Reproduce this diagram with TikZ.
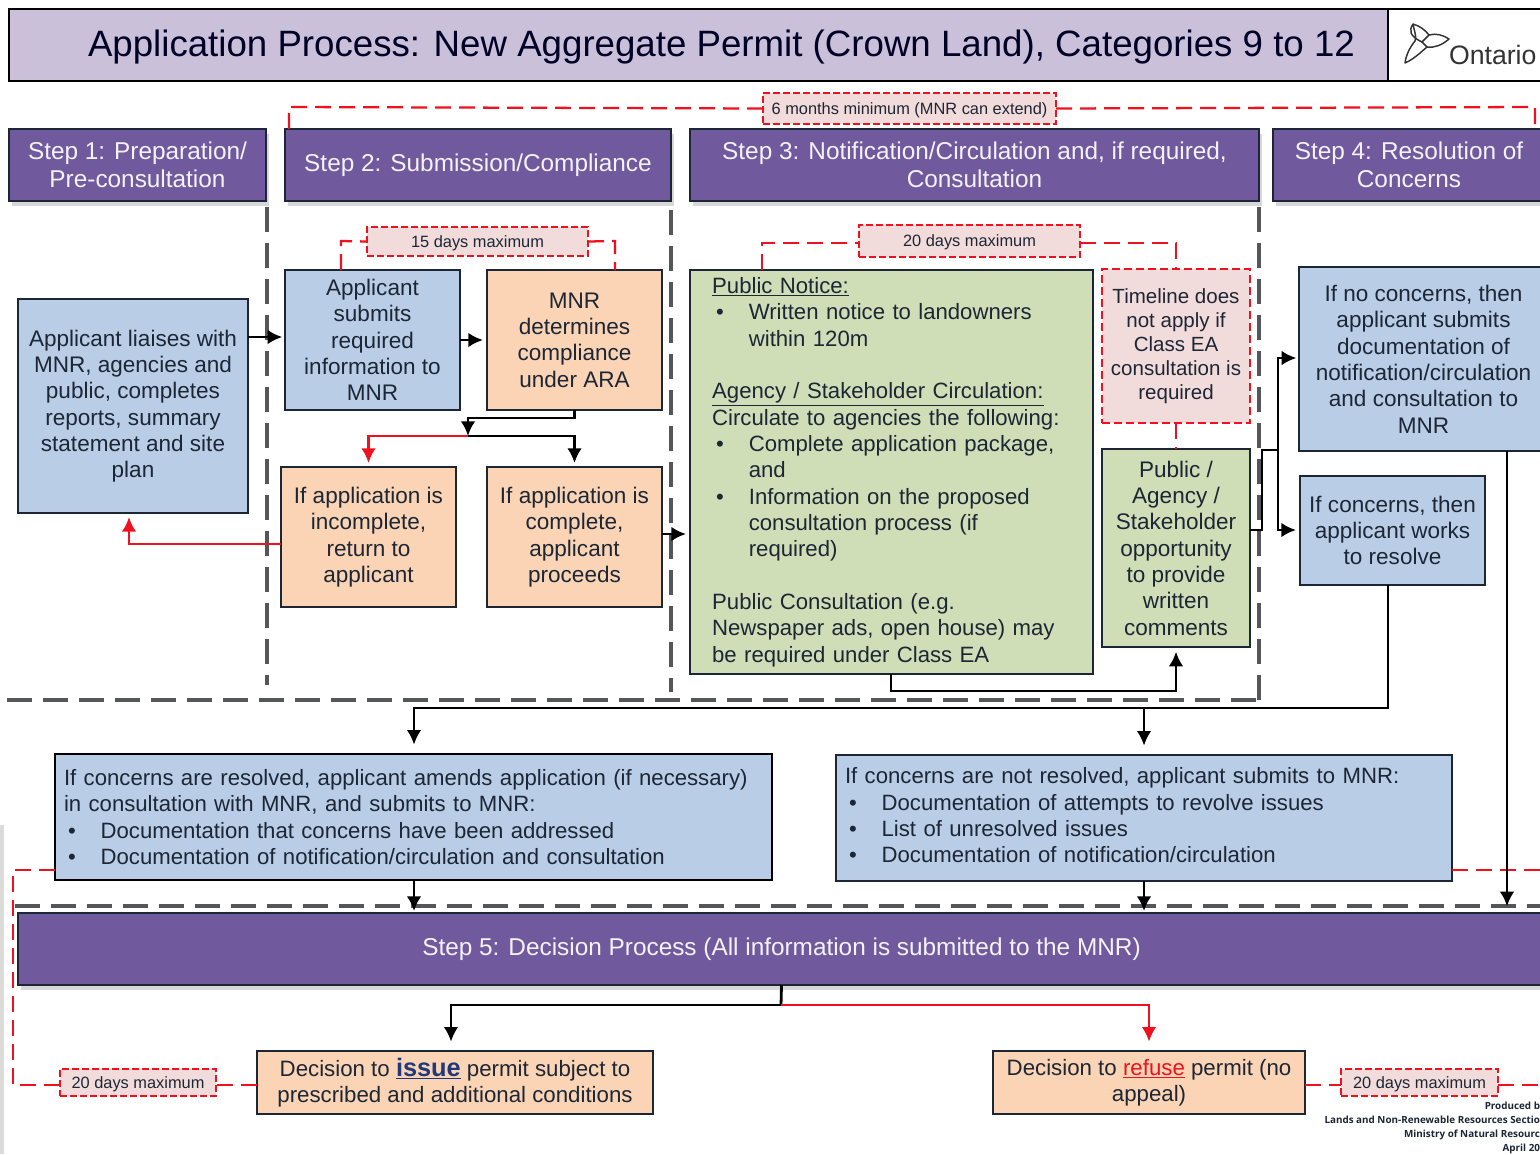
\documentclass[tikz,border=0pt]{standalone}
\usepackage{fontspec}
\setmainfont{Liberation Sans}
\newfontfamily\creditfont{Open Sans}
\usetikzlibrary{arrows.meta,shadows}
\definecolor{ink}{HTML}{1C2635}
\definecolor{lav}{HTML}{CAC0DA}
\definecolor{purp}{HTML}{71599E}
\definecolor{bluef}{HTML}{B9CDE6}
\definecolor{orangef}{HTML}{FAD4B4}
\definecolor{greenf}{HTML}{CFDEB6}
\definecolor{pinkf}{HTML}{F2DCDB}
\definecolor{rd}{HTML}{F0101E}
\definecolor{dash}{HTML}{55565A}
\definecolor{issueblue}{HTML}{1F3A7A}
\newcommand{\bx}[7]{%
  \pgfmathsetmacro{\cxx}{(#2+#4)/2}%
  \pgfmathsetmacro{\cyy}{(#3+#5)/2}%
  \pgfmathsetmacro{\wdd}{(#4-#2)*0.75}%
  \pgfmathsetmacro{\htt}{(#5-#3)*0.75}%
  \node[minimum width=\wdd pt,minimum height=\htt pt,#6] (#1) at (\cxx,\cyy) {#7};%
}
\newcommand{\blt}{\makebox[27.5pt][l]{\hspace*{3pt}•}}
\newcommand{\ind}{\hspace*{27.5pt}}
\newcommand{\tstrut}{\rule{0pt}{11pt}}
\tikzset{
  base/.style={inner sep=0pt,outer sep=0pt,align=center,text=ink,font=\fontsize{16.9}{19.75}\selectfont},
  box/.style={base,draw=ink,line width=.95pt},
  bluebox/.style={box,fill=bluef},
  orangebox/.style={box,fill=orangef},
  greenbox/.style={box,fill=greenf},
  widetext/.style={font=\fontsize{16.62}{19.75}\selectfont,align=left},
  thickbox/.style={bluebox,line width=1.9pt,draw=black},
  header/.style={base,draw=ink,line width=.95pt,fill=purp,text=white!92!purp,
    font=\fontsize{18.27}{21}\selectfont,
    drop shadow={shadow xshift=2.5pt,shadow yshift=-3.5pt,fill=black!35,opacity=.45}},
  timer/.style={base,draw=rd,dash pattern=on 5pt off 2.5pt,line width=1pt,fill=pinkf,font=\fontsize{12.28}{14}\selectfont},
  notebox/.style={base,draw=rd,dash pattern=on 6pt off 3pt,line width=1pt,fill=pinkf,font=\fontsize{15.4}{18}\selectfont},
  arr/.style={draw=black,line width=2.1pt,-{Latex[length=11pt,width=11pt]}},
  arrred/.style={draw=rd,line width=2.1pt,-{Latex[length=11pt,width=11pt]}},
  plain/.style={draw=black,line width=2.1pt},
  reddash/.style={draw=rd,line width=1.7pt,dash pattern=on 12pt off 6pt},
  greydash/.style={draw=dash,line width=2.6pt,dash pattern=on 19pt off 8pt}
}
\begin{document}
\begin{tikzpicture}[x=0.75pt,y=-0.75pt]
\useasboundingbox (0,0) rectangle (1540,1154);
\clip (0,0) rectangle (1540,1154);
\fill[black!14] (0,825) rectangle (4,1154);

% dashed phase separators
\draw[greydash] (267,207) -- (267,685);
\draw[greydash] (671,210) -- (671,692);
\draw[greydash] (1259,207) -- (1259,700);
\draw[greydash] (7,700) -- (1259,700);
\draw[greydash] (15,906) -- (1540,906);

% title
\bx{title}{9}{9}{1388}{81}{base,draw=black,line width=1.9pt,fill=lav,font=\fontsize{27.5}{32}\selectfont,text=black!85!blue}{\hspace*{34.5pt}\smash{\raisebox{-8.6pt}{Application Process: New Aggregate Permit (Crown Land), Categories 9 to 12}}}
\bx{logo}{1388}{9}{1548}{81}{base,draw=black,line width=1.9pt,fill=white}{}
\node[base,anchor=base west,font=\fontsize{20}{22}\selectfont,text=black!80] (ontario) at (1449,64) {Ontario};
\draw[line width=1.1pt,black!80,line join=round] (1422,42) .. controls (1409,36) and (1409,30) .. (1413,24) .. controls (1420,26) and (1425,30) .. (1429,35) .. controls (1436,33) and (1443,35) .. (1449,39) .. controls (1442,45) and (1435,48) .. (1427,47) .. controls (1421,52) and (1414,59) .. (1405,63) .. controls (1406,55) and (1410,47) .. (1415,41) .. controls (1417,36) and (1414,31) .. (1413,24);
\draw[line width=1.1pt,black!80] (1429,35) -- (1422,42) -- (1427,47);

% step headers
\bx{stepone}{9}{129}{266}{201}{header}{Step 1: Preparation/\\Pre-consultation}
\bx{steptwo}{285}{129}{671}{201}{header}{Step 2: Submission/Compliance}
\bx{stepthree}{690}{129}{1259}{201}{header}{Step 3: Notification/Circulation and, if required,\\Consultation}
\bx{stepfour}{1273}{129}{1545}{201}{header}{Step 4: Resolution of\\Concerns}
\bx{stepfive}{18}{913}{1545}{985}{header}{Step 5: Decision Process (All information is submitted to the MNR)}

% boxes
\bx{liaises}{18}{299}{248}{513}{bluebox}{Applicant liaises with\\MNR, agencies and\\public, completes\\reports, summary\\statement and site\\plan}
\bx{submits}{285}{270}{460}{410}{bluebox}{Applicant\\submits\\required\\information to\\MNR}
\bx{determines}{487}{270}{662}{410}{orangebox}{MNR\\determines\\compliance\\under ARA}
\bx{incomplete}{281}{467}{456}{607}{orangebox}{If application is\\incomplete,\\return to\\applicant}
\bx{complete}{487}{467}{662}{607}{orangebox}{If application is\\complete,\\applicant\\proceeds}
\bx{notice}{690}{270}{1093}{674}{greenbox,widetext,text width=269pt}{\underline{Public Notice:}\\
\blt Written notice to landowners\\
\ind within 120m\\[19.75pt]
\underline{Agency / Stakeholder Circulation:}\\
Circulate to agencies the following:\\
\blt Complete application package,\\
\ind and\\
\blt Information on the proposed\\
\ind consultation process (if\\
\ind required)\\[19.75pt]
Public Consultation (e.g.\\
Newspaper ads, open house) may\\
be required under Class EA}
\bx{timeline}{1102}{269}{1250}{423}{notebox}{Timeline does\\not apply if\\Class EA\\consultation is\\required}
\bx{comments}{1102}{449}{1250}{647}{greenbox}{Public /\\Agency /\\Stakeholder\\opportunity\\to provide\\written\\comments}
\bx{noconcerns}{1299}{267}{1548}{451}{bluebox}{If no concerns, then\\applicant submits\\documentation of\\notification/circulation\\and consultation to\\MNR}
\bx{concerns}{1300}{476}{1485}{585}{bluebox}{If concerns, then\\applicant works\\to resolve}
\bx{resolved}{55}{754}{772}{880}{thickbox,widetext,text width=524.25pt}{If concerns are resolved, applicant amends application (if necessary)\\
in consultation with MNR, and submits to MNR:\\
\blt Documentation that concerns have been addressed\\
\blt Documentation of notification/circulation and consultation}
\bx{unresolved}{836}{755}{1452}{881}{bluebox,widetext,text width=448.5pt}{If concerns are not resolved, applicant submits to MNR:\\
\blt Documentation of attempts to revolve issues\\
\blt List of unresolved issues\\
\blt Documentation of notification/circulation\rule[-4pt]{0pt}{4pt}}
\bx{issue}{257}{1051}{653}{1114}{orangebox,font=\fontsize{16.7}{19.75}\selectfont}{Decision to \textbf{\textcolor{issueblue}{\fontsize{19}{19.75}\selectfont\underline{issue}}} permit subject to\\prescribed and additional conditions}
\bx{refuse}{993}{1051}{1305}{1114}{orangebox,font=\fontsize{16.7}{19.75}\selectfont}{Decision to \textcolor{rd}{\underline{refuse}} permit (no\\appeal)}

% timers
\bx{sixmonths}{763}{93}{1056}{124}{timer}{\tstrut 6 months minimum (MNR can extend)}
\bx{fifteen}{367}{227}{588}{256}{timer}{\tstrut 15 days maximum}
\bx{twenty}{859}{225}{1080}{257}{timer}{\tstrut 20 days maximum}
\bx{twentyl}{60}{1069}{216}{1096}{timer}{\tstrut 20 days maximum}
\bx{twentyr}{1341}{1069}{1498}{1096}{timer}{\tstrut 20 days maximum}

% red timing brackets
\coordinate (sixL) at (289,107);
\coordinate (sixR) at (1535,107);
\draw[reddash] (sixL |- stepone.north) -- (sixL) -- (sixmonths.west);
\draw[reddash] (sixmonths.east) -- (sixR) -- (sixR |- stepone.north);
\coordinate (fifL) at (341,241);
\coordinate (fifR) at (615,241);
\draw[reddash] (fifL |- submits.north) -- (fifL) -- (fifteen.west);
\draw[reddash] (fifteen.east) -- (fifR) -- (fifR |- submits.north);
\coordinate (twL) at (762,243);
\coordinate (twR) at (1176,243);
\draw[reddash] (twL |- notice.north) -- (twL) -- (twL -| twenty.west);
\draw[reddash] (twR -| twenty.east) -- (twR) -- (twR |- timeline.north);
\draw[reddash] (timeline.south) -- (comments.north);
\coordinate (corner) at (13,870);
\coordinate (cornerb) at (13,1085);
\draw[reddash] (resolved.west |- corner) -- (corner) -- (cornerb) -- (cornerb -| twentyl.west);
\draw[reddash] (issue.west |- cornerb) -- (twentyl.east |- cornerb);
\draw[reddash] (refuse.east |- cornerb) -- (twentyr.west |- cornerb);
\coordinate (rightedge) at (1540,1085);
\draw[reddash] (twentyr.east |- rightedge) -- (rightedge);
\coordinate (rightup) at (1540,870);
\draw[reddash] (unresolved.east |- rightup) -- (rightup);

% connectors
\draw[arr,shorten >=2pt] (liaises.east |- 0,337) -- (submits.west |- 0,337);
\draw[arr,shorten >=3pt] (submits.east) -- (determines.west);
\coordinate (jnA) at (468,418);
\coordinate (jn) at (468,436);
\draw[arr] (determines.south) |- (jnA) -- (jn);
\draw[arrred,shorten >=3pt] (jn) -| (incomplete.north);
\draw[arr,shorten >=3pt] (jn) -| (complete.north);
\draw[arrred,shorten >=3pt] (incomplete.west |- 0,544) -| (129,513);
\draw[arr,shorten >=3pt] (complete.east |- 0,534) -- (notice.west |- 0,534);
\coordinate (gA) at (891,691);
\draw[arr,shorten >=3.5pt] (gA |- notice.south) -- (gA) -| (comments.south);
\coordinate (splitA) at (1262,450);
\coordinate (splitB) at (1278,450);
\draw[plain] (comments.east |- 0,530) -| (splitA) -- (splitB);
\draw[arr,shorten >=2pt] (splitB) |- (noconcerns.west |- 0,358);
\draw[arr,shorten >=3pt] (splitB) |- (concerns.west |- 0,530);
\coordinate (busR) at (1388,708);
\coordinate (busL) at (414,708);
\coordinate (busM) at (1144,708);
\draw[arr,shorten >=7pt] (busR |- concerns.south) -- (busR) -- (busL) -- (busL |- resolved.north);
\draw[arr,shorten >=7pt] (busM) -- (busM |- unresolved.north);
\coordinate (down) at (1507,451);
\draw[arr,shorten >=5pt] (down) -- (down |- stepfive.north);
\draw[arr,shorten >=1.5pt] (busL |- resolved.south) -- (busL |- stepfive.north);
\draw[arr,shorten >=1.5pt] (busM |- unresolved.south) -- (busM |- stepfive.north);
\coordinate (fork) at (781,1005);
\draw[plain] (stepfive.south) -- (fork);
\draw[arr,shorten >=7pt] (fork) -| (451,1051);
\draw[arrred,shorten >=7pt] (fork) -| (1149,1051);

% credit
\node[base,anchor=north east,align=right,font=\creditfont\bfseries\fontsize{7.4}{10.6}\selectfont] (credit) at (1540,1102) {Produced b\\Lands and Non-Renewable Resources Sectio\\Ministry of Natural Resourc\\April 20};
\end{tikzpicture}
\end{document}
